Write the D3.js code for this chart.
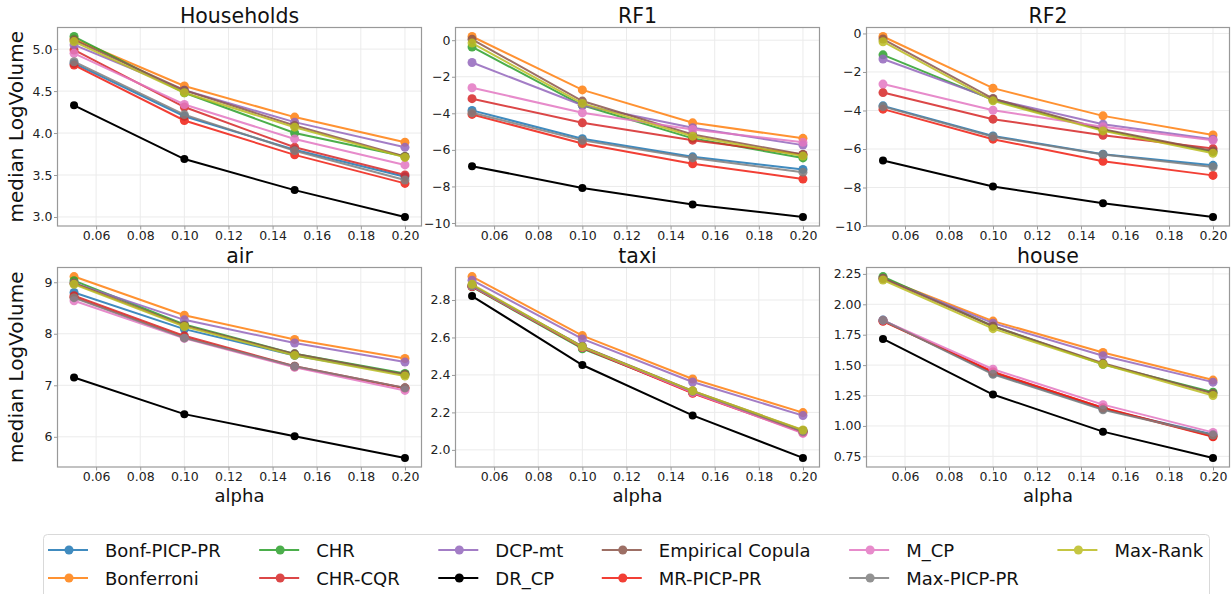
<!DOCTYPE html>
<html>
<head>
<meta charset="utf-8">
<script src="https://cdn.jsdelivr.net/npm/d3@7"></script>
<style>
  body { margin: 0; background: #fff; }
  svg { font-family: "DejaVu Sans", sans-serif; display: block; }
</style>
</head>
<body>
<svg id="chart" width="1232" height="594"></svg>
<script>
// --- data ---
const alphas = [0.05, 0.10, 0.15, 0.20];
const xTicks = [0.06, 0.08, 0.10, 0.12, 0.14, 0.16, 0.18, 0.20];

const methods = ["Bonf-PICP-PR", "Bonferroni", "CHR", "CHR-CQR", "DCP-mt", "DR_CP",
  "Empirical Copula", "MR-PICP-PR", "M_CP", "Max-PICP-PR", "Max-Rank"];
const colors = ["#1f77b4", "#ff7f0e", "#2ca02c", "#d62728", "#9467bd", "#000000",
  "#8c564b", "#f01e12", "#e377c2", "#7f7f7f", "#bcbd22"];

// one row per method, in the order above
const households = [
  [4.83, 4.20, 3.80, 3.48], [5.12, 4.56, 4.19, 3.89], [5.15, 4.48, 4.00, 3.72],
  [4.99, 4.31, 3.83, 3.50], [5.05, 4.51, 4.13, 3.83], [4.33, 3.69, 3.32, 3.00],
  [5.11, 4.51, 4.09, 3.72], [4.81, 4.15, 3.74, 3.40], [4.95, 4.34, 3.93, 3.62],
  [4.85, 4.22, 3.79, 3.44], [5.09, 4.48, 4.07, 3.71]
];
const rf1 = [
  [-3.84, -5.39, -6.38, -7.07], [0.20, -2.72, -4.52, -5.37], [-0.37, -3.56, -5.37, -6.44],
  [-3.20, -4.52, -5.47, -6.25], [-1.22, -3.56, -4.79, -5.74], [-6.89, -8.08, -8.99, -9.67],
  [0.05, -3.33, -5.16, -6.25], [-4.06, -5.65, -6.76, -7.59], [-2.60, -3.97, -4.88, -5.58],
  [-3.97, -5.48, -6.44, -7.22], [-0.16, -3.46, -5.25, -6.34]
];
const rf2 = [
  [-3.76, -5.32, -6.27, -6.85], [-0.16, -2.84, -4.28, -5.27], [-1.11, -3.45, -5.01, -6.14],
  [-3.07, -4.45, -5.29, -5.98], [-1.33, -3.41, -4.71, -5.49], [-6.60, -7.95, -8.82, -9.53],
  [-0.29, -3.38, -4.97, -6.10], [-3.93, -5.49, -6.64, -7.37], [-2.63, -3.99, -4.85, -5.55],
  [-3.80, -5.36, -6.29, -6.93], [-0.43, -3.50, -5.06, -6.22]
];
const air = [
  [8.80, 8.09, 7.58, 7.21], [9.11, 8.36, 7.89, 7.52], [9.03, 8.18, 7.61, 7.23],
  [8.74, 7.96, 7.37, 6.95], [8.98, 8.27, 7.82, 7.45], [7.15, 6.44, 6.01, 5.59],
  [8.98, 8.16, 7.61, 7.21], [8.71, 7.93, 7.36, 6.94], [8.64, 7.91, 7.35, 6.90],
  [8.70, 7.92, 7.37, 6.95], [8.96, 8.14, 7.58, 7.18]
];
const taxi = [
  [2.875, 2.550, 2.310, 2.100], [2.925, 2.610, 2.378, 2.199], [2.870, 2.540, 2.308, 2.100],
  [2.872, 2.547, 2.305, 2.095], [2.906, 2.592, 2.362, 2.183], [2.821, 2.453, 2.184, 1.957],
  [2.878, 2.552, 2.315, 2.104], [2.873, 2.546, 2.302, 2.093], [2.874, 2.548, 2.306, 2.088],
  [2.876, 2.550, 2.312, 2.098], [2.884, 2.550, 2.315, 2.106]
];
const house = [
  [1.870, 1.430, 1.140, 0.930], [2.214, 1.862, 1.604, 1.377], [2.228, 1.820, 1.507, 1.277],
  [1.865, 1.440, 1.150, 0.915], [2.210, 1.845, 1.577, 1.360], [1.715, 1.258, 0.953, 0.737],
  [2.214, 1.820, 1.515, 1.266], [1.860, 1.446, 1.147, 0.911], [1.868, 1.466, 1.175, 0.947],
  [1.868, 1.424, 1.133, 0.925], [2.200, 1.800, 1.507, 1.250]
];

const panels = [
  { title: "Households", values: households, ticks: [3.0, 3.5, 4.0, 4.5, 5.0], fmt: ".1f" },
  { title: "RF1", values: rf1, ticks: [-10, -8, -6, -4, -2, 0], fmt: "d" },
  { title: "RF2", values: rf2, ticks: [-10, -8, -6, -4, -2, 0], fmt: "d" },
  { title: "air", values: air, ticks: [6, 7, 8, 9], fmt: "d" },
  { title: "taxi", values: taxi, ticks: [2.0, 2.2, 2.4, 2.6, 2.8], fmt: ".1f" },
  { title: "house", values: house, ticks: [0.75, 1.00, 1.25, 1.50, 1.75, 2.00, 2.25], fmt: ".2f" }
];

// --- layout ---
const colX = [[57.5, 421.5], [455.5, 819.5], [866.5, 1229.5]];
const rowY = [[27.5, 226], [267.5, 467]];
const svg = d3.select("#chart");
const minus = s => s.replace("-", "\u2212");

// matplotlib style autoscale: data range plus 5% each side
function padded(lo, hi) {
  const m = (hi - lo) * 0.05;
  return [lo - m, hi + m];
}

panels.forEach((p, i) => {
  const row = Math.floor(i / 3), col = i % 3;
  const [x0, x1] = colX[col], [y0, y1] = rowY[row];

  const x = d3.scaleLinear().domain(padded(0.05, 0.20)).range([x0, x1]);
  const all = p.values.flat();
  const y = d3.scaleLinear().domain(padded(d3.min(all), d3.max(all))).range([y1, y0]);

  const g = svg.append("g");

  // grid
  g.append("g").selectAll("line").data(xTicks).join("line")
    .attr("x1", d => x(d)).attr("x2", d => x(d)).attr("y1", y0).attr("y2", y1)
    .attr("stroke", "#ebebeb").attr("stroke-width", 1);
  g.append("g").selectAll("line").data(p.ticks).join("line")
    .attr("y1", d => y(d)).attr("y2", d => y(d)).attr("x1", x0).attr("x2", x1)
    .attr("stroke", "#ebebeb").attr("stroke-width", 1);

  // axes
  const xAxis = g.append("g").attr("transform", `translate(0,${y1})`)
    .call(d3.axisBottom(x).tickValues(xTicks).tickFormat(d3.format(".2f"))
      .tickSize(3.5).tickPadding(1.5).tickSizeOuter(0));
  const yAxis = g.append("g").attr("transform", `translate(${x0},0)`)
    .call(d3.axisLeft(y).tickValues(p.ticks).tickFormat(d => minus(d3.format(p.fmt)(d)))
      .tickSize(3.5).tickPadding(1.5).tickSizeOuter(0));
  [xAxis, yAxis].forEach(a => {
    a.select(".domain").remove();
    a.selectAll("line").attr("stroke", "#999");
    a.selectAll("text").attr("font-size", 12.5).attr("fill", "#222")
      .attr("font-family", "DejaVu Sans");
  });

  // frame
  g.append("rect").attr("x", x0).attr("y", y0).attr("width", x1 - x0).attr("height", y1 - y0)
    .attr("fill", "none").attr("stroke", "#999").attr("stroke-width", 1.2);

  // series
  const line = d3.line().x((d, j) => x(alphas[j])).y(d => y(d));
  p.values.forEach((vals, k) => {
    const s = g.append("g").attr("opacity", k === 5 ? 1 : 0.85);
    s.append("path").datum(vals).attr("d", line)
      .attr("fill", "none").attr("stroke", colors[k]).attr("stroke-width", 2);
    s.selectAll("circle").data(vals).join("circle")
      .attr("cx", (d, j) => x(alphas[j])).attr("cy", d => y(d))
      .attr("r", k === 5 ? 4 : 4.5).attr("fill", colors[k]);
  });

  // title and labels
  g.append("text").attr("x", (x0 + x1) / 2).attr("y", y0 - 4.5)
    .attr("text-anchor", "middle").attr("font-size", 20.5).attr("fill", "#111").text(p.title);
  if (col === 0) {
    g.append("text").attr("transform", `translate(23,${(y0 + y1) / 2}) rotate(-90)`)
      .attr("text-anchor", "middle").attr("font-size", 20).attr("fill", "#111")
      .text("median LogVolume");
  }
  if (row === 1) {
    g.append("text").attr("x", (x0 + x1) / 2).attr("y", 501.5)
      .attr("text-anchor", "middle").attr("font-size", 18).attr("fill", "#111").text("alpha");
  }
});

// --- legend: 6 columns, filled column by column ---
const legend = svg.append("g");
legend.append("rect").attr("x", 43.5).attr("y", 534.5).attr("width", 1166).attr("height", 80)
  .attr("rx", 4).attr("fill", "#fff").attr("stroke", "#d9d9d9");

let cx = 48;
for (let c = 0; c < 6; c++) {
  let widest = 0;
  [0, 1].forEach(r => {
    const k = c * 2 + r;
    if (k >= methods.length) return;
    const cy = 550 + r * 28;
    const item = legend.append("g").attr("opacity", k === 5 ? 1 : 0.85);
    item.append("line").attr("x1", cx).attr("x2", cx + 40).attr("y1", cy).attr("y2", cy)
      .attr("stroke", colors[k]).attr("stroke-width", 2);
    item.append("circle").attr("cx", cx + 21).attr("cy", cy).attr("r", 4.5).attr("fill", colors[k]);
    const t = legend.append("text").attr("x", cx + 57).attr("y", cy + 6.5)
      .attr("font-size", 18).attr("fill", "#111").text(methods[k]);
    widest = Math.max(widest, t.node().getComputedTextLength());
  });
  cx += 57 + widest + 38.5;
}
</script>
</body>
</html>
